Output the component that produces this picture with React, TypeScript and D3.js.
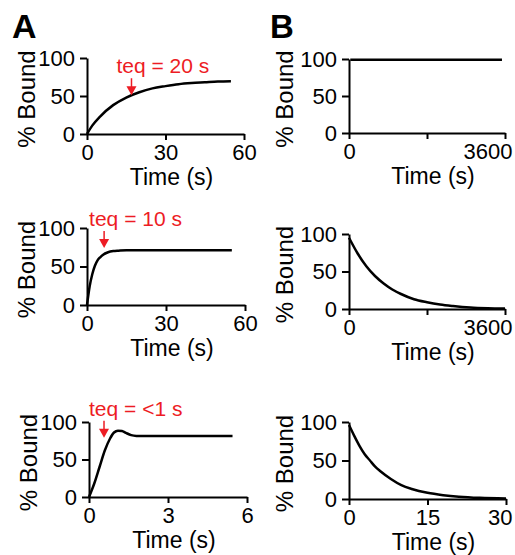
import React, { useEffect, useRef } from 'react';
import * as d3 from 'd3';

// A column: association curves (time in s, % bound)
const a1Time = [0, 2, 5, 10, 15, 20, 25, 30, 35, 40, 45, 50, 55];
const a1Bound = [0, 11, 23, 38, 48, 55, 60, 63, 65.5, 67, 68, 69, 69.5];

const a2Time = [0, 1, 2, 3, 4, 5, 6, 8, 10, 12, 15, 20, 30, 40, 55];
const a2Bound = [0, 24, 40, 51, 58, 62, 65, 68.5, 70, 70.5, 71, 71, 71, 71, 71];

const a3Time = [0, 0.2, 0.4, 0.6, 0.8, 0.95, 1.1, 1.25, 1.4, 1.6, 1.8, 2.2, 3, 4, 5.45];
const a3Bound = [0, 18, 40, 62, 78, 86, 88.5, 88, 85.5, 82.5, 81.5, 81.5, 81.5, 81.5, 81.5];

// B column: dissociation curves
const b1Time = [30, 1000, 2000, 3000, 3530];
const b1Bound = [99, 99, 99, 99, 99];

const b2Time = [0, 200, 400, 600, 800, 1000, 1200, 1500, 1800, 2100, 2400, 2800, 3200, 3600];
const b2Bound = [95, 74, 57, 44, 34, 26, 20, 13, 9, 6, 4, 2, 1, 0.5];

const b3Time = [0, 1, 2, 3, 4, 5, 6, 8, 10, 12, 15, 18, 21, 25, 30];
const b3Bound = [96, 82, 69, 58, 50, 42, 36, 26, 18, 13, 8, 5, 3, 1.5, 0.7];

// axis domains and ticks
const xMax = [60, 3600, 60, 3600, 6, 30];
const xTicks = [[0, 30, 60], [0, 1800, 3600], [0, 30, 60], [0, 1800, 3600], [0, 3, 6], [0, 15, 30]];
const xTickLabels = [['0', '30', '60'], ['0', '', '3600'], ['0', '30', '60'], ['0', '', '3600'], ['0', '3', '6'], ['0', '15', '30']];
const yTicks = [0, 50, 100];

// teq annotations for A panels
const teqLabels = ['teq = 20 s', 'teq = 10 s', 'teq = <1 s'];
const teqArrowT = [17, 6.5, 0.57];
const teqArrowV = [51, 74, 79];

const series = [
  [a1Time, a1Bound], [b1Time, b1Bound],
  [a2Time, a2Bound], [b2Time, b2Bound],
  [a3Time, a3Bound], [b3Time, b3Bound],
];

// plot boxes: left, right, top (100%), bottom (0%)
const boxes = [
  { l: 87, r: 244, t: 58, b: 134 },
  { l: 349, r: 505, t: 59, b: 133 },
  { l: 87, r: 245, t: 228, b: 305 },
  { l: 349, r: 505, t: 234, b: 309 },
  { l: 89, r: 247, t: 422, b: 497 },
  { l: 349, r: 506, t: 422, b: 499 },
];

const FONT = '"Liberation Sans", Arial, Helvetica, sans-serif';
const RED = '#ed1c24';

export default function App() {
  const svgRef = useRef<SVGSVGElement>(null);

  useEffect(() => {
    const svg = d3.select(svgRef.current);
    svg.selectAll('*').remove();

    svg.append('text').attr('x', 12).attr('y', 38)
      .attr('font-family', FONT).attr('font-weight', 'bold').attr('font-size', 34)
      .text('A');
    svg.append('text').attr('x', 270).attr('y', 38)
      .attr('font-family', FONT).attr('font-weight', 'bold').attr('font-size', 33)
      .text('B');

    boxes.forEach((box, i) => {
      const isB = i % 2 === 1;
      const x = d3.scaleLinear().domain([0, xMax[i]]).range([box.l, box.r]);
      const y = d3.scaleLinear().domain([0, 100]).range([box.b, box.t]);
      const g = svg.append('g');

      // y axis
      const ya = g.append('g')
        .attr('transform', `translate(${box.l},0)`)
        .call(d3.axisLeft(y).tickValues(yTicks).tickSize(7).tickPadding(5).tickSizeOuter(0));
      // x axis
      const labels = xTickLabels[i];
      const xa = g.append('g')
        .attr('transform', `translate(0,${box.b})`)
        .call(d3.axisBottom(x).tickValues(xTicks[i]).tickSize(6).tickPadding(4).tickSizeOuter(0)
          .tickFormat((_d, k) => labels[k]));

      [ya, xa].forEach(a => {
        a.select('.domain').attr('stroke-width', 2).attr('stroke', '#000');
        a.selectAll('.tick line').attr('stroke-width', 2).attr('stroke', '#000');
        a.selectAll('.tick text').attr('font-family', FONT).attr('font-size', 22).attr('fill', '#000');
      });

      if (isB) {
        xa.selectAll('.tick text').filter((_d, k) => k === 2)
          .attr('text-anchor', 'end').attr('x', 512 - box.r);
      }

      // axis titles
      g.append('text')
        .attr('x', (box.l + box.r) / 2 + 6).attr('y', box.b + 51)
        .attr('text-anchor', 'middle')
        .attr('font-family', FONT).attr('font-size', 23)
        .text('Time (s)');
      const cy = (box.t + box.b) / 2 + 3;
      const lx = box.l - (isB ? 56 : 52);
      g.append('text')
        .attr('transform', `translate(${lx},${cy}) rotate(-90)`)
        .attr('text-anchor', 'middle')
        .attr('font-family', FONT).attr('font-size', 24)
        .text('% Bound');

      // curve
      const [ts, vs] = series[i];
      const pts = ts.map((t, k) => [t, vs[k]] as [number, number]);
      const line = d3.line<[number, number]>()
        .x(d => x(d[0])).y(d => y(d[1]))
        .curve(d3.curveMonotoneX);
      g.append('path').datum(pts)
        .attr('d', line)
        .attr('fill', 'none').attr('stroke', '#000').attr('stroke-width', 2.5);

      // teq annotation
      if (!isB) {
        const j = i / 2;
        const ax = x(teqArrowT[j]);
        const ay = y(teqArrowV[j]);
        g.append('line')
          .attr('x1', ax).attr('x2', ax).attr('y1', ay - 17).attr('y2', ay - 8)
          .attr('stroke', RED).attr('stroke-width', 1.5);
        g.append('path')
          .attr('d', `M${ax - 5},${ay - 9}L${ax + 5},${ay - 9}L${ax},${ay}Z`)
          .attr('fill', RED);
        g.append('text')
          .attr('x', ax - 15).attr('y', ay - 22)
          .attr('font-family', FONT).attr('font-size', 21).attr('fill', RED)
          .text(teqLabels[j]);
      }
    });
  }, []);

  return (
    <svg ref={svgRef} width={515} height={555}
      style={{ position: 'absolute', left: 0, top: 0, background: '#fff' }} />
  );
}
